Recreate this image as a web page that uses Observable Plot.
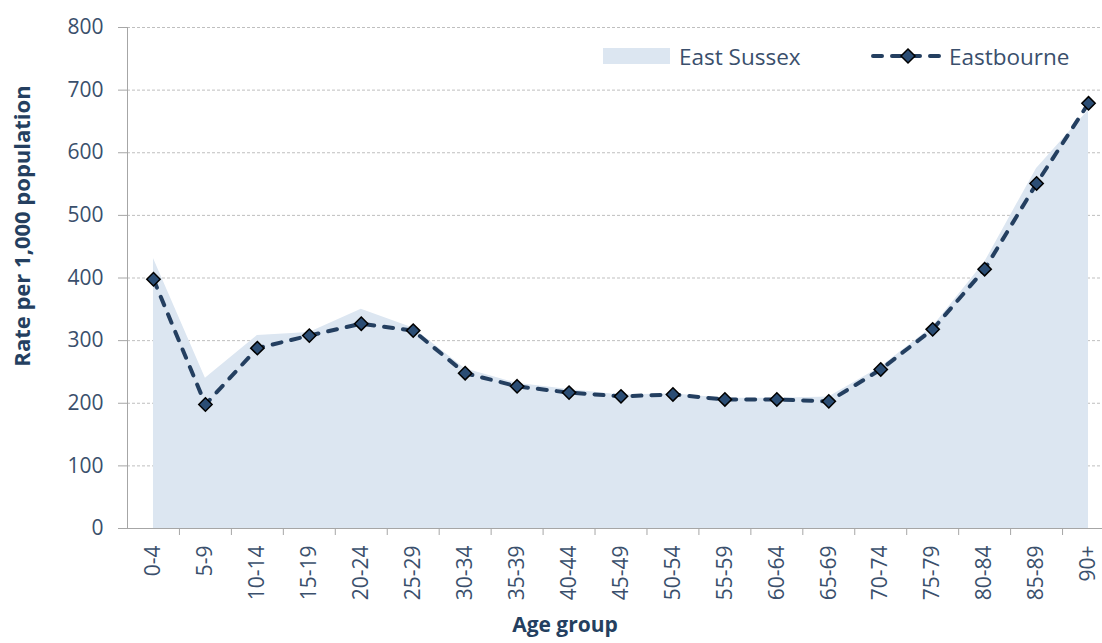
<!DOCTYPE html>
<html><head><meta charset="utf-8">
<script src="https://cdn.jsdelivr.net/npm/d3@7"></script>
<script src="https://cdn.jsdelivr.net/npm/@observablehq/plot@0.6"></script>
<style>
body{margin:0;background:#fff;font-family:"Open Sans",sans-serif;}
#wrap{position:relative;width:1102px;height:643px;overflow:hidden;}
.leg{position:absolute;top:40px;height:32px;font-size:22.5px;color:#3a4f6c;display:flex;align-items:center;white-space:nowrap;}
.sw{display:inline-block;width:67px;height:16px;background:#dce6f1;margin-right:9px;}
</style></head><body>
<div id="wrap"></div>
<script>
const ageGroups = ["0-4","5-9","10-14","15-19","20-24","25-29","30-34","35-39","40-44","45-49","50-54","55-59","60-64","65-69","70-74","75-79","80-84","85-89","90+"];
const eastSussex = [431, 240, 308, 313, 350, 320, 255, 232, 222, 213, 215, 208, 208, 210, 258, 322, 425, 575, 668];
const eastbourne = [398, 198, 288, 308, 327, 316, 248, 227, 217, 211, 214, 206, 206, 203, 254, 318, 414, 551, 679];
const yTicks = [0, 100, 200, 300, 400, 500, 600, 700, 800];

const data = ageGroups.map((g, i) => ({i, g, es: eastSussex[i], eb: eastbourne[i]}));
const idx = ageGroups.map((g, i) => i);
const bounds = ageGroups.map((g, i) => i + 0.5);

const tickColor = "#3a4f6c";
const titleColor = "#243f60";
const font = "'Open Sans', sans-serif";

const plot = Plot.plot({
  width: 1102, height: 643,
  marginLeft: 127, marginTop: 27, marginBottom: 115, marginRight: 0,
  style: {fontFamily: font, color: tickColor, background: "#fff", overflow: "visible"},
  x: {type: "linear", domain: [-0.5, ageGroups.length - 0.5], range: [127, 1114]},
  y: {domain: [0, 800]},
  marks: [
    Plot.gridY(yTicks, {stroke: "#bfbfbf", strokeOpacity: 1, strokeDasharray: "3,2"}),
    Plot.areaY(data, {x: "i", y: "es", fill: "#dce6f1"}),
    Plot.ruleY([0], {stroke: "#a6a6a6"}),
    Plot.ruleX([-0.5], {stroke: "#a6a6a6"}),
    Plot.axisY({ticks: yTicks, tickSize: 9, stroke: "#a6a6a6", fill: tickColor, fontSize: 21, tickPadding: 15, label: null}),
    Plot.axisX({ticks: bounds, tickSize: 7, stroke: "#a6a6a6", tickFormat: () => "", label: null}),
    Plot.axisX({ticks: idx, tickSize: 0, tickRotate: -90, tickFormat: i => ageGroups[i], fontSize: 21, fill: tickColor, tickPadding: 17, label: null}),
    Plot.line(data, {x: "i", y: "eb", stroke: titleColor, strokeWidth: 4, strokeDasharray: "9,10", strokeLinecap: "round"}),
    Plot.dot(data, {x: "i", y: "eb", symbol: "diamond2", r: 6, fill: "#2b4d74", stroke: "#000", strokeWidth: 1.5}),
    Plot.text(["Rate per 1,000 population"], {frameAnchor: "left", textAnchor: "middle", rotate: -90, dx: -105, dy: -52, fontWeight: "bold", fontSize: 22, fill: titleColor}),
    Plot.text(["Age group"], {frameAnchor: "bottom", dx: -50, dy: 103, fontWeight: "bold", fontSize: 21, fill: titleColor})
  ]
});
const wrap = document.getElementById("wrap");
wrap.appendChild(plot);

const leg1 = document.createElement("div");
leg1.className = "leg";
leg1.style.left = "603px";
leg1.innerHTML = '<span class="sw"></span><span>East Sussex</span>';
wrap.appendChild(leg1);

const leg2 = document.createElement("div");
leg2.className = "leg";
leg2.style.left = "870px";
leg2.innerHTML = '<svg width="76" height="20" style="margin-right:3px"><line x1="3" y1="10" x2="73" y2="10" stroke="' + titleColor + '" stroke-width="4" stroke-dasharray="9,10" stroke-linecap="round"/><path d="M38,3 L45,10 L38,17 L31,10 Z" fill="#2b4d74" stroke="#000" stroke-width="1.5"/></svg><span>Eastbourne</span>';
wrap.appendChild(leg2);
</script>
</body></html>
